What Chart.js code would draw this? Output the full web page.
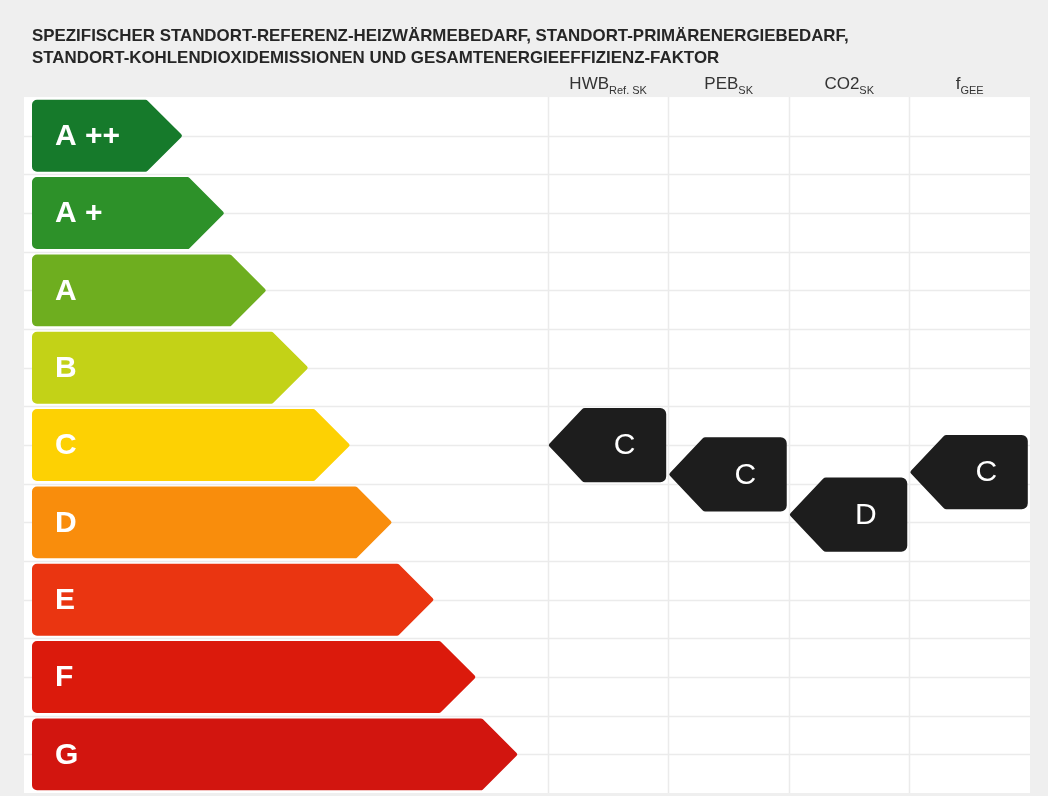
<!DOCTYPE html>
<html>
<head>
<meta charset="utf-8">
<script src="https://cdn.jsdelivr.net/npm/chart.js@4.4.1/dist/chart.umd.min.js"></script>
<style>
  html, body { margin: 0; padding: 0; background: #efefef; }
  #wrap { width: 1048px; height: 796px; }
</style>
</head>
<body>
<div id="wrap"><canvas id="chart"></canvas></div>
<script>
  const TITLE_LINES = [
    'SPEZIFISCHER STANDORT-REFERENZ-HEIZWÄRMEBEDARF, STANDORT-PRIMÄRENERGIEBEDARF,',
    'STANDORT-KOHLENDIOXIDEMISSIONEN UND GESAMTENERGIEEFFIZIENZ-FAKTOR'
  ];

  // energy classes, top to bottom
  const classLabels = ['A ++', 'A +', 'A', 'B', 'C', 'D', 'E', 'F', 'G'];
  const classColors = ['#167a2b', '#2d9129', '#6eae1f', '#c3d217', '#fdd103', '#f98d0c', '#ea3511', '#db1a0c', '#d2150f'];
  const classBarEnds = [15.1, 19.3, 23.5, 27.7, 31.9, 36.1, 40.3, 44.5, 48.7];

  // rating columns on the right
  const columnNames = ['HWB', 'PEB', 'CO2', 'f'];
  const columnSubs = ['Ref. SK', 'SK', 'SK', 'GEE'];
  const ratingLetters = ['C', 'C', 'D', 'C'];
  const ratingPositions = [4.0, 4.38, 4.9, 4.35];

  const FONT = '"Liberation Sans", Arial, sans-serif';

  function roundedPoly(ctx, pts, r) {
    ctx.beginPath();
    const n = pts.length;
    const start = [(pts[n - 1][0] + pts[0][0]) / 2, (pts[n - 1][1] + pts[0][1]) / 2];
    ctx.moveTo(start[0], start[1]);
    for (let i = 0; i < n; i++) {
      const p = pts[i];
      const q = pts[(i + 1) % n];
      ctx.arcTo(p[0], p[1], q[0], q[1], p[2] !== undefined ? p[2] : r);
    }
    ctx.closePath();
  }

  const energyPlugin = {
    id: 'energyLabel',
    beforeDraw(chart) {
      const { ctx, chartArea } = chart;
      const y = chart.scales.y;
      const xc = chart.scales.xc;
      ctx.save();
      ctx.fillStyle = '#efefef';
      ctx.fillRect(0, 0, chart.width, chart.height);
      // white panel
      const left = chartArea.left - 8;
      ctx.fillStyle = '#ffffff';
      ctx.fillRect(left, chartArea.top, chartArea.right - left, chartArea.bottom - chartArea.top);
      // grid
      ctx.strokeStyle = '#ebebeb';
      ctx.lineWidth = 1.5;
      for (let v = 0; v <= 8; v += 0.5) {
        const py = Math.round(y.getPixelForValue(v)) + 0.5;
        ctx.beginPath();
        ctx.moveTo(left, py);
        ctx.lineTo(chartArea.right, py);
        ctx.stroke();
      }
      for (let c = 0; c < columnNames.length; c++) {
        const px = Math.round(xc.getPixelForValue(c)) + 0.5;
        ctx.beginPath();
        ctx.moveTo(px, chartArea.top);
        ctx.lineTo(px, chartArea.bottom);
        ctx.stroke();
      }
      ctx.restore();
    },
    beforeDatasetDraw(chart, args) {
      if (args.index !== 0) return;
      const { ctx } = chart;
      const xScale = chart.scales.x;
      const yScale = chart.scales.y;
      const rowH = yScale.getPixelForValue(1) - yScale.getPixelForValue(0);
      const points = chart.data.datasets[0].data;
      ctx.save();
      points.forEach((p, i) => {
        const x = xScale.getPixelForValue(p.x);
        const base = xScale.getPixelForValue(0);
        const y = yScale.getPixelForValue(p.y);
        const height = rowH * 0.93;
        const top = y - height / 2;
        const bottom = y + height / 2;
        const depth = height / 2;
        ctx.fillStyle = classColors[i];
        roundedPoly(ctx, [
          [base, top, 5],
          [x - depth, top, 3],
          [x, y, 2],
          [x - depth, bottom, 3],
          [base, bottom, 5]
        ], 4);
        ctx.fill();
        ctx.fillStyle = '#ffffff';
        ctx.font = 'bold 30px ' + FONT;
        ctx.textAlign = 'left';
        ctx.textBaseline = 'middle';
        ctx.fillText(classLabels[i], base + 23, y + 1);
      });
      ctx.restore();
      return false;
    },
    afterDatasetsDraw(chart) {
      const { ctx, chartArea } = chart;
      const xc = chart.scales.xc;
      const yScale = chart.scales.y;
      const meta = chart.getDatasetMeta(1);
      const colW = xc.getPixelForValue(1) - xc.getPixelForValue(0);
      const rowH = yScale.getPixelForValue(1) - yScale.getPixelForValue(0);
      ctx.save();
      // rating markers
      meta.data.forEach((pt, i) => {
        const { x, y } = pt.getProps(['x', 'y'], true);
        const w = colW * 0.98;
        const h = rowH * 0.96;
        const xl = x - w / 2 - 1;
        const xr = x + w / 2 - 1;
        const top = y - h / 2;
        const bottom = y + h / 2;
        const depth = h / 2 - 2;
        ctx.fillStyle = '#1d1d1d';
        roundedPoly(ctx, [
          [xl, y, 2],
          [xl + depth, top, 4],
          [xr, top, 6],
          [xr, bottom, 6],
          [xl + depth, bottom, 4]
        ], 4);
        ctx.fill();
        ctx.fillStyle = '#ffffff';
        ctx.font = '30px ' + FONT;
        ctx.textAlign = 'center';
        ctx.textBaseline = 'middle';
        ctx.fillText(ratingLetters[i], (xl + depth + xr) / 2, y + 1);
      });
      // column headers
      ctx.fillStyle = '#333333';
      ctx.textBaseline = 'alphabetic';
      ctx.textAlign = 'left';
      const baseY = chartArea.top - 8;
      columnNames.forEach((name, i) => {
        const cx = xc.getPixelForValue(i + 0.5);
        ctx.font = '17px ' + FONT;
        const w1 = ctx.measureText(name).width;
        ctx.font = '11px ' + FONT;
        const w2 = ctx.measureText(columnSubs[i]).width;
        const sx = cx - (w1 + w2) / 2;
        ctx.font = '17px ' + FONT;
        ctx.fillText(name, sx, baseY);
        ctx.font = '11px ' + FONT;
        ctx.fillText(columnSubs[i], sx + w1, baseY + 5);
      });
      ctx.restore();
    }
  };

  const ctx = document.getElementById('chart').getContext('2d');
  new Chart(ctx, {
    data: {
      datasets: [
        {
          type: 'bar',
          indexAxis: 'y',
          xAxisID: 'x',
          yAxisID: 'y',
          data: classBarEnds.map((end, i) => ({ x: end, y: i })),
          backgroundColor: classColors
        },
        {
          type: 'scatter',
          xAxisID: 'xc',
          yAxisID: 'y',
          data: ratingPositions.map((v, i) => ({ x: i + 0.5, y: v })),
          pointRadius: 0,
          pointHoverRadius: 0
        }
      ]
    },
    options: {
      responsive: true,
      maintainAspectRatio: false,
      animation: false,
      events: [],
      layout: {
        padding: { left: 32, right: 18, top: 0, bottom: 3 }
      },
      scales: {
        x: { type: 'linear', min: 0, max: 100, offset: false, display: false },
        xc: { type: 'linear', axis: 'x', min: -4.28, max: 4, offset: false, display: false },
        y: { type: 'linear', min: -0.5, max: 8.5, reverse: true, offset: false, display: false }
      },
      plugins: {
        legend: { display: false },
        tooltip: { enabled: false },
        title: {
          display: true,
          text: TITLE_LINES,
          align: 'start',
          color: '#262626',
          font: { family: FONT, size: 16.9, weight: 'bold', lineHeight: 1.26 },
          padding: { top: 26, bottom: 28.5 }
        }
      }
    },
    plugins: [energyPlugin]
  });
</script>
</body>
</html>
